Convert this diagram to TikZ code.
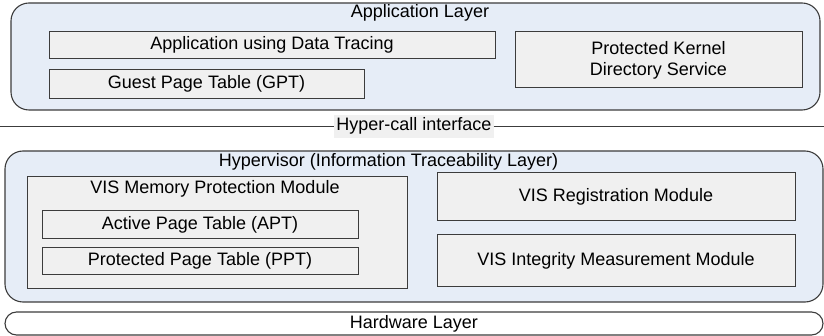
\documentclass[tikz,border=0pt]{standalone}
\usepackage{fontspec}
\setmainfont{Liberation Sans}
\definecolor{layerblue}{HTML}{E6EDF7}
\definecolor{boxgray}{HTML}{F0F0F0}
\definecolor{edgegray}{HTML}{3C3C3C}
\begin{document}
\begin{tikzpicture}[x=1pt, y=-1pt,
                    font=\fontsize{18}{21}\selectfont,
                    layer/.style = {draw=edgegray, fill=layerblue, line width=1.1pt, rounded corners=18pt, inner sep=0pt},
                    block/.style = {draw=edgegray, fill=boxgray, line width=1pt, inner sep=0pt, align=center, text height=13pt, text depth=4pt},
                    title/.style = {anchor=base, inner sep=0pt}]
                    \useasboundingbox (0,0) rectangle (824,336);

                    % application layer
                    \node[layer, minimum width=809pt, minimum height=107pt] (app) at (415.5,56.5) {};
                    \node[title] (apptitle) at (420,18) {Application Layer};
                    \node[block, minimum width=446pt, minimum height=27pt] (trace) at (272,45.5) {Application using Data Tracing};
                    \node[block, minimum width=315pt, minimum height=29pt] (gpt) at (206.5,84.5) {Guest Page Table (GPT)};
                    \node[block, minimum width=287pt, minimum height=56pt, text height=, text depth=] (pkds) at (658.5,60) {Protected Kernel\\Directory Service};

                    % hyper-call interface
                    \coordinate (left) at (0,126.5);
                    \coordinate (right) at (824,126.5);
                    \node[fill=boxgray, inner xsep=2pt, inner ysep=3pt, text height=13pt, text depth=4pt] (hcall) at (414,126.5) {Hyper-call interface};
                    \draw[edgegray, line width=1.2pt] (left) -- (hcall.west);
                    \draw[edgegray, line width=1.2pt] (hcall.east) -- (right);

                    % hypervisor
                    \node[layer, minimum width=818pt, minimum height=151pt] (hyp) at (414,226.5) {};
                    \node[title] (hyptitle) at (388.5,167) {Hypervisor (Information Traceability Layer)};
                    \node[block, minimum width=380pt, minimum height=112pt] (vmpm) at (217,233) {};
                    \node[title] (vmpmtitle) at (215,194) {VIS Memory Protection Module};
                    \node[block, minimum width=316pt, minimum height=28pt] (apt) at (200,225) {Active Page Table (APT)};
                    \node[block, minimum width=316pt, minimum height=27pt] (ppt) at (200,261.5) {Protected Page Table (PPT)};
                    \node[block, minimum width=358pt, minimum height=48pt] (vrm) at (616,197) {VIS Registration Module};
                    \node[block, minimum width=358pt, minimum height=52pt] (vimm) at (616,261) {VIS Integrity Measurement Module};

                    % hardware
                    \node[layer, fill=white, rounded corners=11.5pt, minimum width=818pt, minimum height=23pt, text height=13pt, text depth=4pt] (hw) at (414,323.5) {Hardware Layer};
                \end{tikzpicture}
\end{document}
